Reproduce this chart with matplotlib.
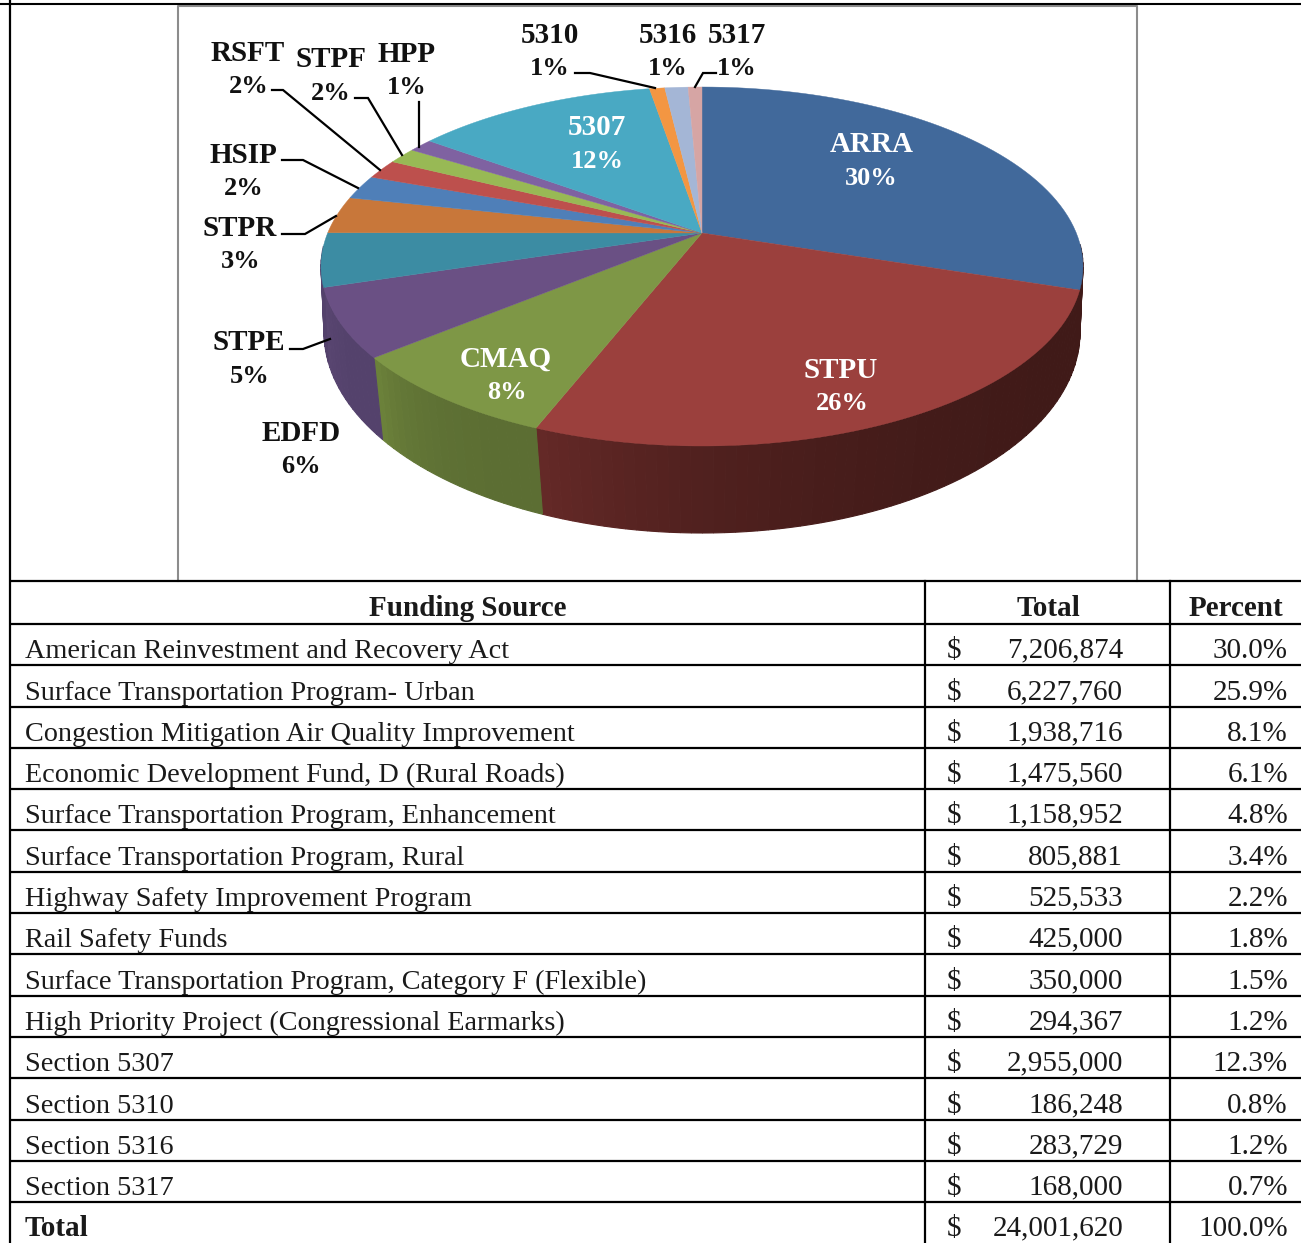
import numpy as np
import matplotlib
matplotlib.use("Agg")
import matplotlib.pyplot as plt
from matplotlib.colors import to_rgb

sources = ["American Reinvestment and Recovery Act", "Surface Transportation Program- Urban",
           "Congestion Mitigation Air Quality Improvement", "Economic Development Fund, D (Rural Roads)",
           "Surface Transportation Program, Enhancement", "Surface Transportation Program, Rural",
           "Highway Safety Improvement Program", "Rail Safety Funds",
           "Surface Transportation Program, Category F (Flexible)", "High Priority Project (Congressional Earmarks)",
           "Section 5307", "Section 5310", "Section 5316", "Section 5317"]
totals = [7206874, 6227760, 1938716, 1475560, 1158952, 805881, 525533,
          425000, 350000, 294367, 2955000, 186248, 283729, 168000]
percents = ["30.0%", "25.9%", "8.1%", "6.1%", "4.8%", "3.4%", "2.2%",
            "1.8%", "1.5%", "1.2%", "12.3%", "0.8%", "1.2%", "0.7%"]
short_names = ["ARRA", "STPU", "CMAQ", "EDFD", "STPE", "STPR", "HSIP",
               "RSFT", "STPF", "HPP", "5307", "5310", "5316", "5317"]
pie_pcts = ["30%", "26%", "8%", "6%", "5%", "3%", "2%",
            "2%", "2%", "1%", "12%", "1%", "1%", "1%"]
grand_total = "24,001,620"
grand_pct = "100.0%"

top_colors = ["#41699b", "#9b403d", "#7e9746", "#6a5084", "#3c8ca3", "#c8773a", "#4f7fb8",
              "#bd504d", "#98b955", "#7f62a1", "#49a9c3", "#f39642", "#a4b6d6", "#d6a5a4"]
# side wall colours of the slices that face the viewer: slice -> (clockwise start, clockwise end)
side_shades = {0: ("#401a18", "#401a18"), 1: ("#401a18", "#652927"), 2: ("#5c6e33", "#6c823b"),
               3: ("#54426c", "#5a4672"), 4: ("#54426c", "#54426c")}

plt.rcParams['font.family'] = ['Liberation Serif', 'DejaVu Serif']

W, H = 1301, 1243
fig = plt.figure(figsize=(W / 100, H / 100), dpi=100)
ax = fig.add_axes([0, 0, 1, 1])
ax.set_xlim(0, W)
ax.set_ylim(H, 0)
ax.axis('off')


def project(theta, cx, cy, rx, ry, k):
    # perspective view of a circle, theta clockwise from 12 o'clock
    u = np.sin(theta)
    v = np.cos(theta)
    d = 1 + k * v
    return cx + rx * u * np.sqrt(1 - k * k) / d, cy - ry * (v + k) / d


TOP = dict(cx=702, cy=266.5, rx=381, ry=179.5, k=0.1866)
BOTTOM = dict(cx=702, cy=332, rx=378, ry=201, k=0.152)
hub_x, hub_y = 702, 233

fractions = np.array(totals) / sum(totals)
edges = np.concatenate([[0], np.cumsum(fractions)]) * 2 * np.pi

# side walls, in thin strips so the shade can change along the rim
for i, (c0, c1) in side_shades.items():
    c0, c1 = np.array(to_rgb(c0)), np.array(to_rgb(c1))
    n = max(int((edges[i + 1] - edges[i]) * 40), 2)
    steps = np.linspace(edges[i], edges[i + 1], n + 1)
    for j in range(n):
        a, b = steps[j], steps[j + 1]
        # the back half of the rim is hidden behind the top face
        if b < np.radians(95) or a > np.radians(265):
            continue
        col = c0 + (c1 - c0) * ((j + 0.5) / n) ** 3
        xa, ya = project(a, **TOP)
        xb, yb = project(b, **TOP)
        arc = np.linspace(b, a, 8)
        xl, yl = project(arc, **BOTTOM)
        ax.fill(np.r_[xa, xb, xl], np.r_[ya, yb, yl], facecolor=col, edgecolor=col, lw=0.8, zorder=1)

# top faces
for i in range(len(totals)):
    arc = np.linspace(edges[i], edges[i + 1], 60)
    xs, ys = project(arc, **TOP)
    ax.fill(np.r_[hub_x, xs], np.r_[hub_y, ys], color=top_colors[i], lw=0.3, zorder=2)

# leader lines
leaders = [
    [(272, 90), (283, 90), (380, 170)],
    [(355, 98), (368, 98), (402, 155)],
    [(419, 102), (419, 147)],
    [(282, 160), (303, 160), (358, 188)],
    [(282, 234), (305, 234), (336, 216)],
    [(290, 349), (303, 349), (330, 339)],
    [(575, 73), (590, 73), (655, 88)],
    [(716, 73), (703, 73), (695, 87)],
]
for pts in leaders:
    ax.plot([p[0] for p in pts], [p[1] for p in pts], color='black', lw=1.6, zorder=3,
            solid_joinstyle='miter')

# pie labels: name position, percent position
label_pos = {
    "ARRA": ((872, 144), (871, 178)), "STPU": ((841, 370), (842, 403)),
    "CMAQ": ((506, 359), (507, 392)), "EDFD": ((301, 433), (301, 466)),
    "STPE": ((249, 342), (250, 376)), "STPR": ((240, 228), (241, 261)),
    "HSIP": ((243, 155), (244, 188)), "RSFT": ((248, 53), (249, 86)),
    "STPF": ((331, 59), (331, 93)), "HPP": ((407, 54), (407, 87)),
    "5307": ((597, 127), (597, 161)), "5310": ((550, 35), (550, 68)),
    "5316": ((668, 35), (668, 68)), "5317": ((737, 35), (737, 68)),
}
white_labels = {"ARRA", "STPU", "CMAQ", "5307"}
for name, pct in zip(short_names, pie_pcts):
    col = 'white' if name in white_labels else '#111111'
    (nx, ny), (px, py) = label_pos[name]
    ax.text(nx, ny, name, color=col, fontsize=21, fontweight='bold', ha='center', va='center', zorder=4)
    ax.text(px, py, pct, color=col, fontsize=19, fontweight='bold', ha='center', va='center', zorder=4)

# chart frame
ax.plot([178, 178, 1137, 1137], [581, 6, 6, 581], color='#8c8c8c', lw=1.5, zorder=0)
ax.plot([0, W], [4, 4], color='black', lw=1.5, zorder=0)

# table grid
row_lines = [581, 624, 665, 707, 748, 789, 830, 872, 913, 954, 996, 1037, 1078, 1120, 1161, 1202]
for y in row_lines:
    ax.plot([10, W], [y, y], color='black', lw=1.6, zorder=5, solid_capstyle='butt')
ax.plot([10, 10], [0, H], color='black', lw=1.6, zorder=5)
for x in [925, 1170]:
    ax.plot([x, x], [581, H], color='black', lw=1.6, zorder=5)

TXT = 21
NAME_TXT = 20.3
ink = '#1a1a1a'
ax.text(468, 616, "Funding Source", fontsize=TXT, fontweight='bold', ha='center', va='baseline', color=ink)
ax.text(1048, 616, "Total", fontsize=TXT, fontweight='bold', ha='center', va='baseline', color=ink)
ax.text(1236, 616, "Percent", fontsize=TXT, fontweight='bold', ha='center', va='baseline', color=ink)

for i, (src, tot, pct) in enumerate(zip(sources, totals, percents)):
    base = row_lines[i + 2] - 8
    ax.text(25, base + 1, src, fontsize=NAME_TXT, ha='left', va='baseline', color=ink)
    ax.text(954, base + 1, "$", fontsize=TXT, ha='center', va='baseline', color=ink)
    ax.text(1123, base, f"{tot:,}", fontsize=TXT, ha='right', va='baseline', color=ink)
    ax.text(1288, base + 1, pct, fontsize=TXT, ha='right', va='baseline', color=ink)

base = 1235
ax.text(25, base + 1, "Total", fontsize=TXT, fontweight='bold', ha='left', va='baseline', color=ink)
ax.text(954, base + 1, "$", fontsize=TXT, ha='center', va='baseline', color=ink)
ax.text(1123, base, grand_total, fontsize=TXT, ha='right', va='baseline', color=ink)
ax.text(1288, base + 1, grand_pct, fontsize=TXT, ha='right', va='baseline', color=ink)

fig.savefig("out.png", dpi=100, facecolor='white')
